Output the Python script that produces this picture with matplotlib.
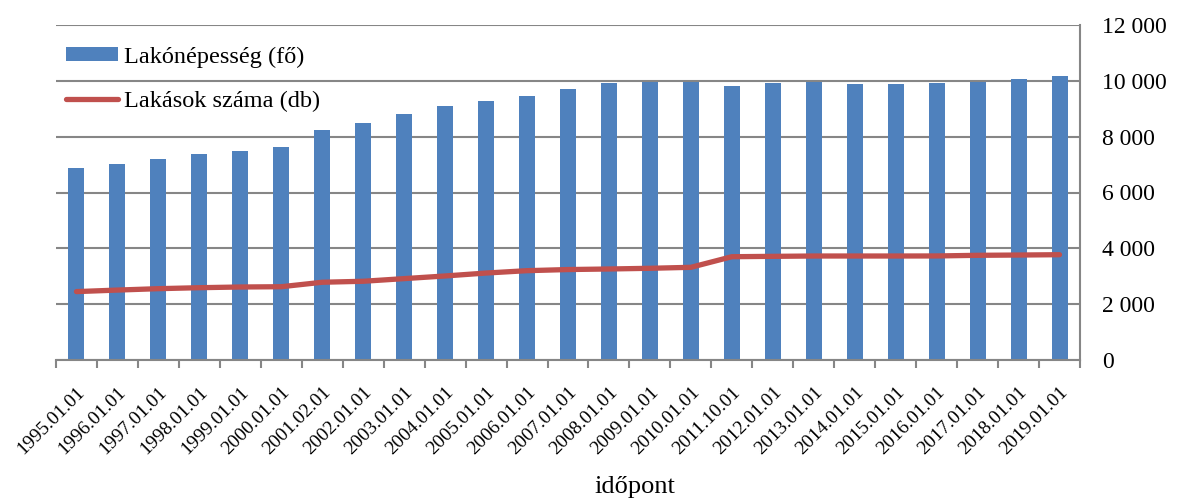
import matplotlib.pyplot as plt
import numpy as np

# data
dates = ['1995.01.01', '1996.01.01', '1997.01.01', '1998.01.01', '1999.01.01',
         '2000.01.01', '2001.02.01', '2002.01.01', '2003.01.01', '2004.01.01',
         '2005.01.01', '2006.01.01', '2007.01.01', '2008.01.01', '2009.01.01',
         '2010.01.01', '2011.10.01', '2012.01.01', '2013.01.01', '2014.01.01',
         '2015.01.01', '2016.01.01', '2017.01.01', '2018.01.01', '2019.01.01']
lakonepesseg = [6870, 7010, 7190, 7365, 7475, 7630, 8240, 8490, 8810, 9100,
                9280, 9455, 9700, 9910, 9970, 9970, 9825, 9925, 9960, 9885,
                9875, 9910, 9970, 10065, 10185]
lakasok = [2450, 2505, 2555, 2590, 2615, 2625, 2785, 2820, 2915, 3010,
           3115, 3200, 3240, 3260, 3285, 3320, 3700, 3713, 3725, 3725,
           3725, 3727, 3750, 3760, 3772]
yticks = [0, 2000, 4000, 6000, 8000, 10000, 12000]

plt.rcParams['font.family'] = ['Liberation Serif', 'DejaVu Serif']

fig = plt.figure(figsize=(11.8, 4.99), dpi=100)
ax = fig.add_axes([56/1180, 1 - 360/499, 1024/1180, 335/499])

x = np.arange(len(dates))
bars = ax.bar(x, lakonepesseg, width=0.39, color='#4F81BD', label='Lakónépesség (fő)', zorder=2)
line, = ax.plot(x, lakasok, color='#C0504D', lw=3.8, solid_capstyle='round',
                label='Lakások száma (db)', zorder=3)

ax.set_xlim(-0.5, len(dates) - 0.5)
ax.set_ylim(0, 12000)

# y axis on the right, thousands with space separator
ax.yaxis.tick_right()
ax.set_yticks(yticks)
ax.set_yticklabels([f'{v:,}'.replace(',', ' ') for v in yticks], fontsize=17)
ax.tick_params(axis='y', length=0, pad=16)
ax.yaxis.grid(True, color='#868686', lw=1.5, zorder=0)

# category labels in the middle, tick marks at the boundaries
ax.set_xticks(x)
ax.set_xticklabels(dates, rotation=45, ha='right', rotation_mode='anchor', fontsize=14)
ax.set_xticks(np.arange(len(dates) + 1) - 0.5, minor=True)
ax.tick_params(axis='x', which='major', length=0, pad=17)
ax.tick_params(axis='x', which='minor', length=6, width=1.5, color='#868686')

for side in ['left', 'top']:
    ax.spines[side].set_visible(False)
for side in ['right', 'bottom']:
    ax.spines[side].set_color('#868686')
    ax.spines[side].set_linewidth(1.5)

ax.set_xlabel('időpont', fontsize=19)
ax.xaxis.set_label_coords(0.565, -0.345)

ax.legend([bars, line], [bars.get_label(), line.get_label()],
          loc='upper left', bbox_to_anchor=(0.0, 0.965), frameon=False, fontsize=17.5,
          handlelength=2.15, handleheight=0.5, handletextpad=0.25,
          labelspacing=0.95, borderaxespad=0.0)

fig.savefig('out.png', dpi=100)
